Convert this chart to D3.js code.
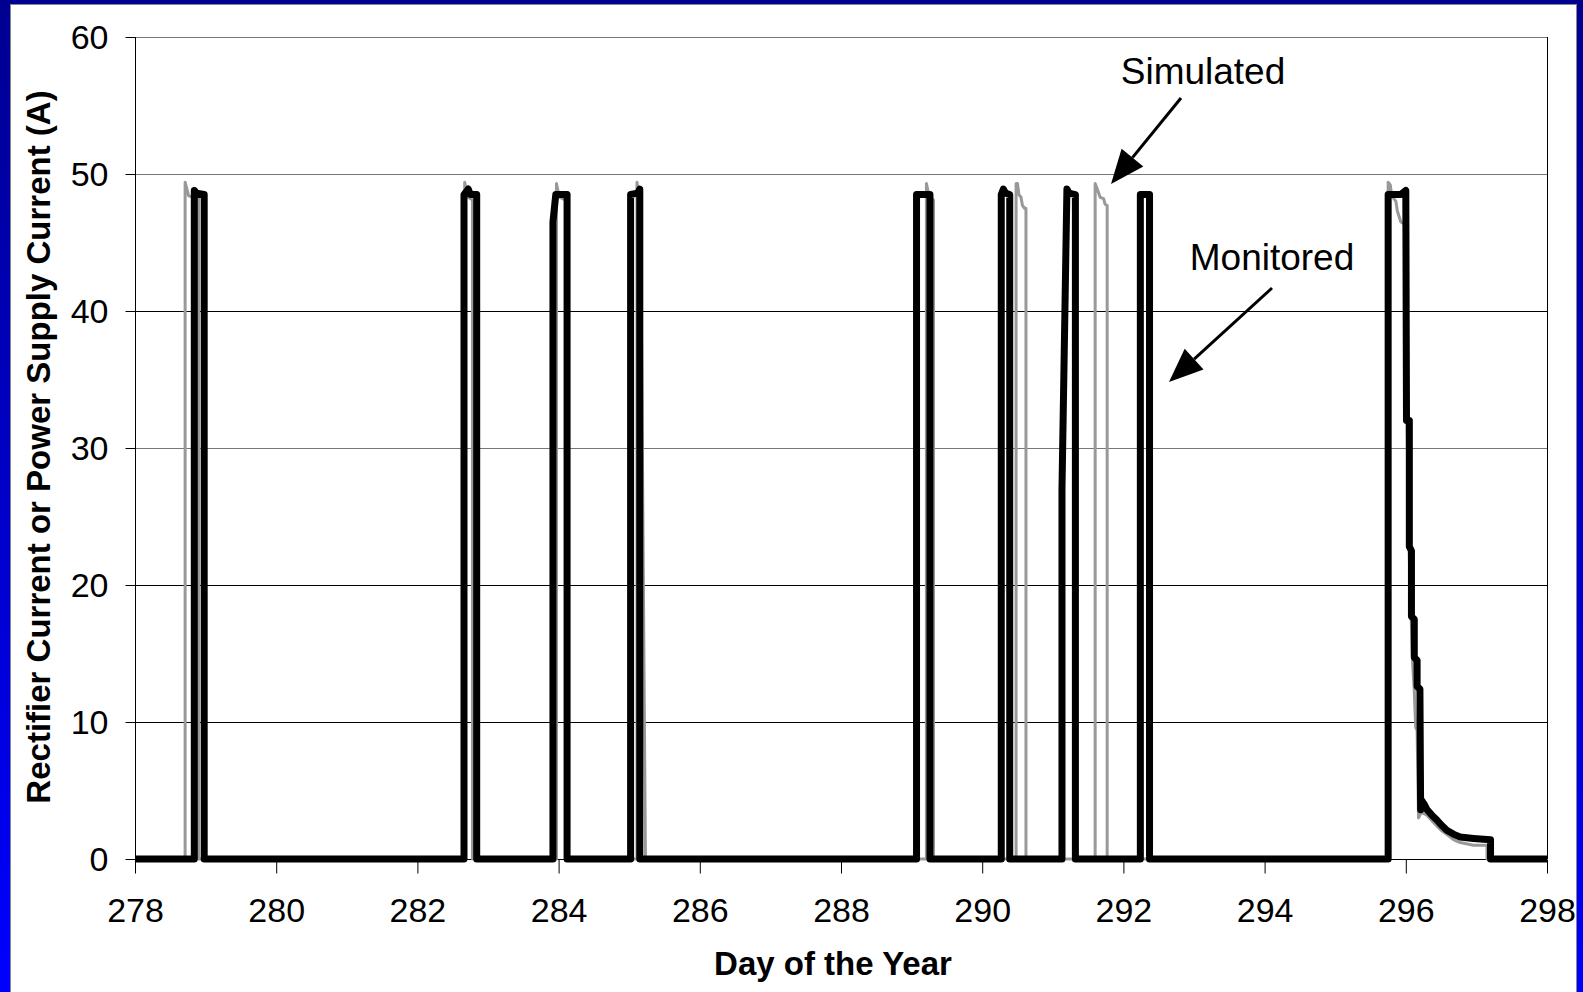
<!DOCTYPE html>
<html>
<head>
<meta charset="utf-8">
<script src="https://cdn.jsdelivr.net/npm/d3@7"></script>
<style>
  body { margin: 0; background: #fff; }
  text { font-family: "Liberation Sans", Arial, sans-serif; }
</style>
</head>
<body>
<svg id="chart" width="1583" height="992"></svg>
<script>
const W = 1583, H = 992;
const PLOT = { left: 135, right: 1547, top: 37, bottom: 859 };

const xTicks = [278, 280, 282, 284, 286, 288, 290, 292, 294, 296, 298];
const yTicks = [0, 10, 20, 30, 40, 50, 60];

// Monitored current [day, A]
const monitored = [
  [278, 0], [278.84, 0], [278.84, 48.8], [278.87, 48.6], [278.98, 48.5], [278.98, 0],
  [282.66, 0], [282.66, 48.5], [282.72, 48.9], [282.75, 48.5], [282.84, 48.5], [282.84, 0],
  [283.92, 0], [283.92, 46.5], [283.96, 48.5], [284.12, 48.5], [284.12, 0],
  [285.02, 0], [285.02, 48.5], [285.12, 48.6], [285.15, 48.9], [285.15, 0],
  [289.07, 0], [289.07, 48.5], [289.26, 48.5], [289.26, 0],
  [290.27, 0], [290.27, 48.5], [290.3, 48.9], [290.33, 48.6], [290.39, 48.5], [290.39, 0],
  [291.13, 0], [291.13, 27], [291.2, 48.9], [291.23, 48.6], [291.32, 48.5], [291.32, 0],
  [292.24, 0], [292.24, 48.5], [292.37, 48.5], [292.37, 0],
  [295.75, 0], [295.75, 48.5], [295.93, 48.5], [296.0, 48.8], [296.01, 32],
  [296.05, 32], [296.05, 22.8], [296.08, 22.5], [296.08, 17.7], [296.12, 17.5],
  [296.12, 14.7], [296.16, 14.5], [296.16, 12.6], [296.2, 12.4], [296.21, 3.6],
  [296.22, 4.3], [296.26, 4.0], [296.3, 3.6], [296.37, 3.2], [296.44, 2.85],
  [296.5, 2.5], [296.58, 2.1], [296.68, 1.8], [296.77, 1.6], [296.96, 1.5],
  [297.2, 1.4], [297.2, 0], [298, 0]
];

// Simulated current [day, A]
const simulated = [
  [278, 0], [278.71, 0], [278.71, 49.4], [278.73, 49.0], [278.76, 48.4], [278.9, 48.2], [278.9, 0],
  [282.67, 0], [282.67, 49.4], [282.69, 48.9], [282.72, 48.3], [282.78, 48.1], [282.78, 0],
  [283.97, 0], [283.97, 49.3], [283.99, 48.8], [284.02, 48.3], [284.1, 48.1], [284.1, 0],
  [285.11, 0], [285.11, 49.4], [285.13, 48.8], [285.16, 48.3], [285.23, 0],
  [289.21, 0], [289.21, 49.3], [289.23, 48.8], [289.26, 48.3], [289.31, 48.1], [289.31, 0],
  [290.48, 0], [290.48, 49.3], [290.5, 49.3], [290.52, 48.5], [290.55, 48.3],
  [290.57, 47.7], [290.6, 47.5], [290.62, 47.5], [290.62, 0],
  [291.6, 0], [291.6, 49.3], [291.63, 48.9], [291.67, 48.3], [291.72, 48.2], [291.74, 47.8], [291.77, 47.7], [291.77, 0],
  [295.75, 0], [295.75, 49.4], [295.78, 49.2], [295.8, 48.4], [295.86, 48.0], [295.88, 47.3],
  [295.93, 46.5], [296.0, 46.3], [296.02, 31], [296.05, 22], [296.08, 17], [296.1, 14],
  [296.12, 12.3], [296.14, 9.6], [296.16, 9.4], [296.18, 3.0], [296.22, 3.4],
  [296.3, 3.2], [296.37, 2.8], [296.44, 2.4], [296.5, 2.1], [296.58, 1.8],
  [296.68, 1.4], [296.77, 1.2], [296.96, 1.0], [297.15, 1.0], [297.15, 0], [298, 0]
];

const svg = d3.select("#chart");

const defs = svg.append("defs");
const grad = defs.append("linearGradient")
  .attr("id", "frame").attr("x1", 0).attr("y1", 0).attr("x2", 0).attr("y2", 1);
grad.append("stop").attr("offset", "0%").attr("stop-color", "#000090");
grad.append("stop").attr("offset", "100%").attr("stop-color", "#0000ff");

svg.append("rect").attr("width", W).attr("height", H).attr("fill", "url(#frame)");
svg.append("rect")
  .attr("x", 10.5).attr("y", 4.5).attr("width", 1566).attr("height", H)
  .attr("fill", "#fff").attr("stroke", "#888").attr("stroke-width", 1);

const x = d3.scaleLinear().domain([278, 298]).range([PLOT.left, PLOT.right]);
const y = d3.scaleLinear().domain([0, 60]).range([PLOT.bottom, PLOT.top]);

// gridlines
svg.append("g")
  .selectAll("line")
  .data(yTicks.filter(d => d > 0))
  .join("line")
  .attr("x1", PLOT.left).attr("x2", PLOT.right)
  .attr("y1", d => Math.round(y(d)) + 0.5).attr("y2", d => Math.round(y(d)) + 0.5)
  .attr("stroke", d => (d == 30 || d == 50 || d == 60) ? "#777" : "#000")
  .attr("stroke-width", 1);

// right border
svg.append("line")
  .attr("x1", PLOT.right + 0.5).attr("x2", PLOT.right + 0.5)
  .attr("y1", PLOT.top).attr("y2", PLOT.bottom)
  .attr("stroke", "#000");

// y axis
const yAxis = svg.append("g")
  .attr("transform", `translate(${PLOT.left + 0.5},0)`)
  .call(d3.axisLeft(y).tickValues(yTicks).tickSize(10).tickPadding(17).tickFormat(d3.format("d")));
yAxis.select(".domain").attr("stroke", "#000").attr("d", `M0,${PLOT.top}V${PLOT.bottom}`);
yAxis.selectAll(".tick line").attr("stroke", "#000");
yAxis.selectAll(".tick text")
  .style("font-family", "'Liberation Sans', Arial, sans-serif")
  .style("font-size", "34px").attr("fill", "#000").attr("dy", "0.35em");

// x axis
const xAxis = svg.append("g")
  .attr("transform", `translate(0,${PLOT.bottom + 0.5})`)
  .call(d3.axisBottom(x).tickValues(xTicks).tickSize(14).tickPadding(24).tickFormat(d3.format("d")));
xAxis.select(".domain").attr("stroke", "#000").attr("d", `M${PLOT.left},0H${PLOT.right}`);
xAxis.selectAll(".tick line").attr("stroke", "#000");
xAxis.selectAll(".tick text")
  .style("font-family", "'Liberation Sans', Arial, sans-serif")
  .style("font-size", "34px").attr("fill", "#000").attr("dy", "0.71em");

// series
const line = d3.line().x(d => x(d[0])).y(d => y(d[1]));

svg.append("path")
  .datum(simulated)
  .attr("d", line)
  .attr("fill", "none")
  .attr("stroke", "#999")
  .attr("stroke-width", 3)
  .attr("stroke-linejoin", "round");

svg.append("path")
  .datum(monitored)
  .attr("d", line)
  .attr("fill", "none")
  .attr("stroke", "#000")
  .attr("stroke-width", 7)
  .attr("stroke-linejoin", "round");

// axis titles
svg.append("text")
  .attr("x", 833).attr("y", 975)
  .attr("text-anchor", "middle")
  .style("font-size", "33px").style("font-weight", "bold")
  .text("Day of the Year");

svg.append("text")
  .attr("transform", "translate(50,447) rotate(-90)")
  .attr("text-anchor", "middle")
  .style("font-size", "33px").style("font-weight", "bold")
  .text("Rectifier Current or Power Supply Current (A)");

// annotations
const notes = [
  { label: "Simulated", tx: 1203, ty: 84, from: [1181, 98], to: [1111, 184] },
  { label: "Monitored", tx: 1272, ty: 270, from: [1272, 288], to: [1169, 382] }
];

notes.forEach(n => {
  svg.append("text")
    .attr("x", n.tx).attr("y", n.ty)
    .attr("text-anchor", "middle")
    .style("font-size", "37px")
    .text(n.label);

  const dx = n.to[0] - n.from[0], dy = n.to[1] - n.from[1];
  const len = Math.hypot(dx, dy);
  const ux = dx / len, uy = dy / len;
  const headL = 34, headW = 14;
  const bx = n.to[0] - ux * headL, by = n.to[1] - uy * headL;
  svg.append("line")
    .attr("x1", n.from[0]).attr("y1", n.from[1])
    .attr("x2", bx).attr("y2", by)
    .attr("stroke", "#000").attr("stroke-width", 3);
  svg.append("path")
    .attr("d", `M${n.to[0]},${n.to[1]}L${bx - uy * headW},${by + ux * headW}L${bx + uy * headW},${by - ux * headW}Z`)
    .attr("fill", "#000");
});
</script>
</body>
</html>
